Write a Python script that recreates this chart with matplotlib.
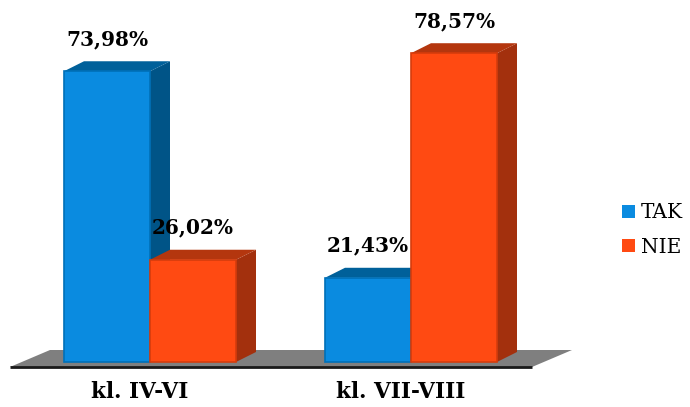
import matplotlib
matplotlib.use("Agg")
import matplotlib.pyplot as plt
from matplotlib.patches import Polygon, Patch

# dane
categories = ["kl. IV-VI", "kl. VII-VIII"]
series = ["TAK", "NIE"]
tak = [73.98, 21.43]
nie = [26.02, 78.57]
labels_tak = ["73,98%", "21,43%"]
labels_nie = ["26,02%", "78,57%"]

front = {"TAK": "#0a8be0", "NIE": "#ff4a12"}
side = {"TAK": "#005487", "NIE": "#a3300d"}
top = {"TAK": "#00609a", "NIE": "#b4360e"}
edge = {"TAK": "#0070b8", "NIE": "#d53c0c"}

W, H = 690, 407
fig = plt.figure(figsize=(W / 100, H / 100), dpi=100)
ax = fig.add_axes([0, 0, 1, 1])
ax.axis("off")

# skala: piksele na jednostke
px_x = 261.0      # px na kategorie
px_y = 3.93       # px na 1%
x0_px, y0_px = 150.0, 362.0
ax.set_xlim(-x0_px / px_x, (W - x0_px) / px_x)
ax.set_ylim(-(H - y0_px) / px_y, y0_px / px_y)

def dx(p):
    return p / px_x

def dy(p):
    return p / px_y

bw = dx(86)
ddx, ddy = dx(20), dy(10)

# podloga
fl = dx(10 - x0_px); fr = dx(532 - x0_px)
ff = -dy(5); fb = dy(12)
ax.add_patch(Polygon([(fl, ff), (fr, ff), (fr + dx(40), fb), (fl + dx(40), fb)],
                     closed=True, facecolor="#7f7f7f", edgecolor="none", zorder=1))
ax.plot([fl, fr], [ff, ff], color="#1a1a1a", lw=2, zorder=2, solid_capstyle="butt")

def bar3d(x, v, key, z):
    ax.add_patch(Polygon([(x + bw, 0), (x + bw + ddx, ddy), (x + bw + ddx, v + ddy), (x + bw, v)],
                         closed=True, facecolor=side[key], edgecolor="none", zorder=z))
    ax.add_patch(Polygon([(x, v), (x + ddx, v + ddy), (x + bw + ddx, v + ddy), (x + bw, v)],
                         closed=True, facecolor=top[key], edgecolor="none", zorder=z))
    ax.bar(x, v, width=bw, align="edge", color=front[key], edgecolor=edge[key],
           linewidth=1.2, zorder=z)

z = 3
for i in range(len(categories)):
    bar3d(i - bw, tak[i], "TAK", z); z += 1
    bar3d(i, nie[i], "NIE", z); z += 1

font_lbl = dict(family="DejaVu Serif", fontweight="bold", fontsize=14.5)
for i in range(len(categories)):
    for x, v, s in [(i - bw / 2, tak[i], labels_tak[i]), (i + bw / 2, nie[i], labels_nie[i])]:
        ax.annotate(s, (x, v), xytext=(0, 23), textcoords="offset points",
                    ha="center", va="center", zorder=20, **font_lbl)

for i, c in enumerate(categories):
    ax.text(i - dx(10), -dy(30), c, ha="center", va="center",
            family="DejaVu Serif", fontweight="bold", fontsize=15.5)

handles = [Patch(facecolor=front[s], edgecolor="none", label=s) for s in series]
fig.legend(handles=handles, loc="center left", bbox_to_anchor=(622 / W, 1 - 230 / H),
           frameon=False, prop={"family": "DejaVu Serif", "size": 14.5},
           handlelength=0.65, handleheight=0.65, handletextpad=0.3,
           labelspacing=0.75, borderpad=0, borderaxespad=0)

fig.savefig("out.png", dpi=100)
